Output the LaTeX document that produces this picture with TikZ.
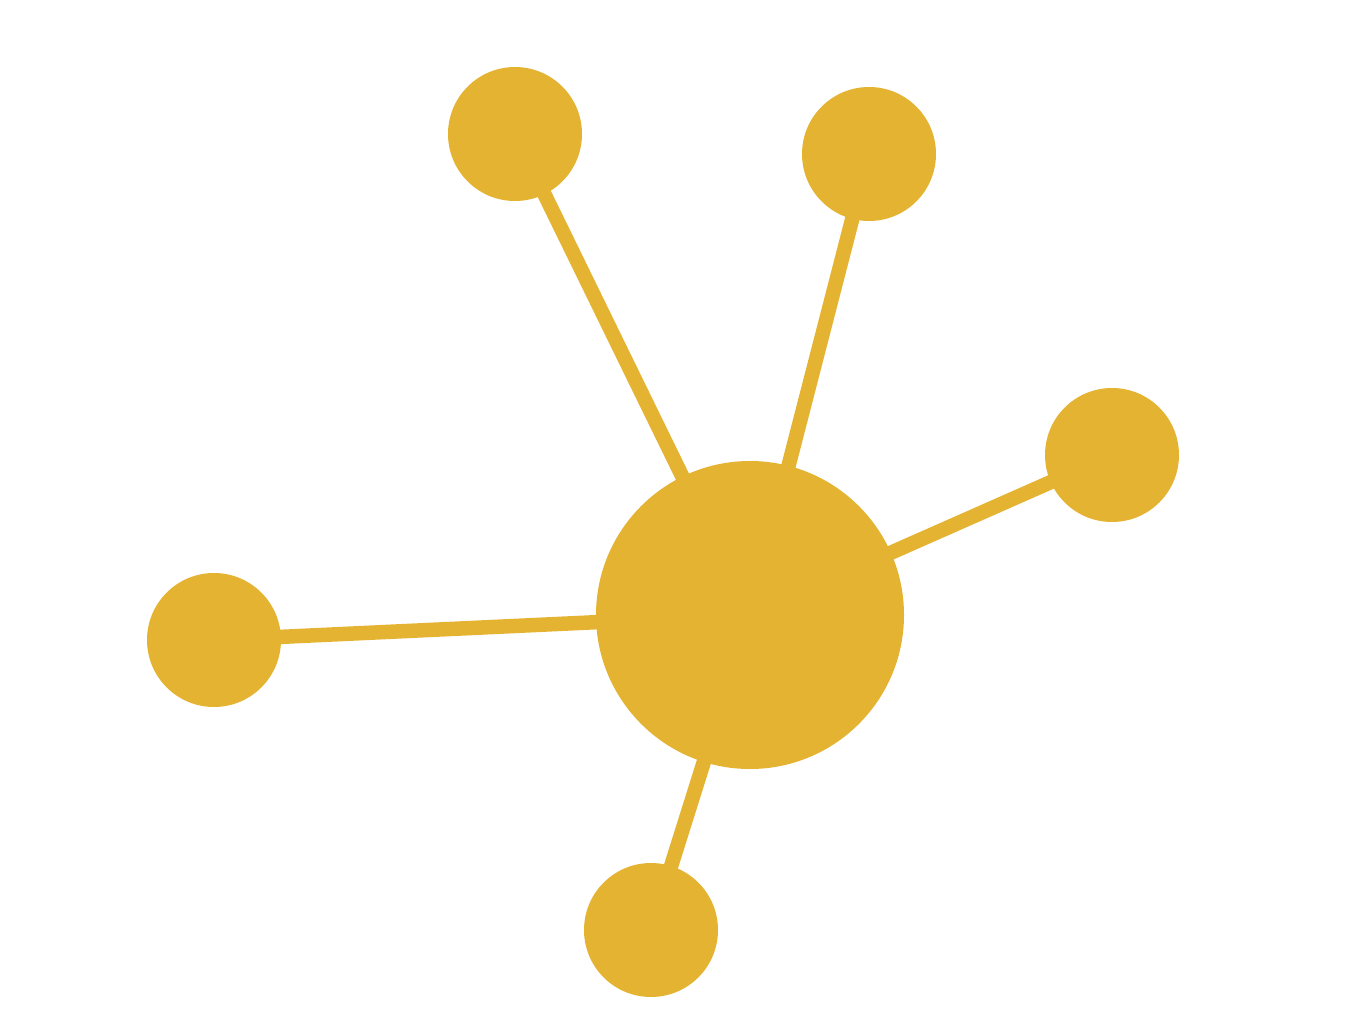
\documentclass[tikz,border=0pt]{standalone}
\usepackage{tikz}
\definecolor{gold}{HTML}{E4B331}
\begin{document}
\begin{tikzpicture}[x=1pt,y=-1pt,
  hub/.style={circle,fill=gold,minimum size=308pt,inner sep=0pt},
  sat/.style={circle,fill=gold,minimum size=134pt,inner sep=0pt},
  link/.style={draw=gold,line width=14.5pt}]
\useasboundingbox (0,0) rectangle (1366,1009);
\coordinate (hc) at (750,615);
\coordinate (ac) at (515,134);
\coordinate (bc) at (869,154);
\coordinate (cc) at (1112,455);
\coordinate (dc) at (214,640);
\coordinate (ec) at (651,930);
\draw[link] (hc) -- (ac);
\draw[link] (hc) -- (bc);
\draw[link] (hc) -- (cc);
\draw[link] (hc) -- (dc);
\draw[link] (hc) -- (ec);
\node[hub] (h) at (hc) {};
\node[sat] (a) at (ac) {};
\node[sat] (b) at (bc) {};
\node[sat] (c) at (cc) {};
\node[sat] (d) at (dc) {};
\node[sat] (e) at (ec) {};
\end{tikzpicture}
\end{document}
